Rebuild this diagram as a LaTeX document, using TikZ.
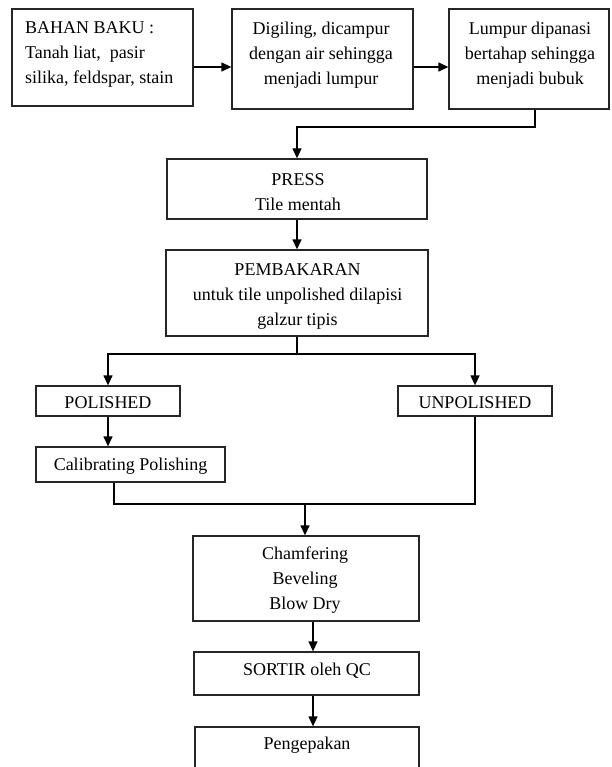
\documentclass[tikz,border=0pt]{standalone}
\usepackage{fontspec}
\setmainfont{Liberation Serif}
\usetikzlibrary{arrows.meta}
\begin{document}
\begin{tikzpicture}[x=1pt,y=-1pt,
  box/.style={draw=black!85, line width=1.3pt, rectangle, inner sep=0pt},
  txt/.style={inner sep=0pt, font=\fontsize{18}{25}\selectfont, align=center, yshift=-2pt},
  line/.style={line width=1.3pt, draw=black},
  arr/.style={line, -{Triangle[length=10pt,width=9pt]}}]
\clip (0,0) rectangle (611,767);
\useasboundingbox (0,0) rectangle (611,767);
\fill[white] (0,0) rectangle (611,767);

% process boxes
\node[box, minimum width=181pt, minimum height=97pt]  (b1)    at (102.5,57.5) {};
\node[box, minimum width=181pt, minimum height=100pt] (b2)    at (322.5,59) {};
\node[box, minimum width=160pt, minimum height=100pt] (b3)    at (529,59) {};
\node[box, minimum width=260pt, minimum height=60pt]  (press) at (297,189) {};
\node[box, minimum width=262pt, minimum height=86pt]  (pemb)  at (297,293) {};
\node[box, minimum width=144pt, minimum height=30pt]  (pol)   at (108,401) {};
\node[box, minimum width=154pt, minimum height=30pt]  (unpol) at (475,401) {};
\node[box, minimum width=189pt, minimum height=35pt]  (cal)   at (130.5,464.5) {};
\node[box, minimum width=226pt, minimum height=85pt]  (cham)  at (306,578.5) {};
\node[box, minimum width=225pt, minimum height=43pt]  (sort)  at (306.5,673.5) {};
\node[box, minimum width=224pt, minimum height=80pt]  (pack)  at (307,767) {};

% labels
\node[txt, align=left, anchor=west] (t1) at (25,52.5)
  {BAHAN BAKU :\\Tanah liat,\ \ pasir\\silika, feldspar,\ stain};
\node[txt] (t2) at (321,53) {Digiling, dicampur\\dengan air sehingga\\menjadi lumpur};
\node[txt] (t3) at (530,53) {Lumpur dipanasi\\bertahap sehingga\\menjadi bubuk};
\node[txt] (t4) at (298,190) {PRESS\\Tile mentah};
\node[txt] (t5) at (297.5,294) {PEMBAKARAN\\untuk tile unpolished dilapisi\\galzur tipis};
\node[txt] (t6) at (108,401) {POLISHED};
\node[txt] (t7) at (475,401) {UNPOLISHED};
\node[txt] (t8) at (130.5,464.5) {Calibrating Polishing};
\node[txt] (t9) at (305,578) {Chamfering\\Beveling\\Blow Dry};
\node[txt] (t10) at (307,669) {SORTIR oleh QC};
\node[txt] (t11) at (307,743) {Pengepakan};

% routing points
\coordinate (r1) at (0,67);
\coordinate (k1) at (535,127);
\coordinate (split) at (297,354);
\coordinate (jl) at (114,504);
\coordinate (jr) at (475,504);
\coordinate (jm) at (305,504);
\coordinate (v) at (313,0);

% connectors
\draw[arr] (b1.east |- r1) -- (b2.west |- r1);
\draw[arr] (b2.east |- r1) -- (b3.west |- r1);
\draw[arr] (b3.south -| k1) -- (k1) -| (press.north);
\draw[arr] (press.south) -- (pemb.north);
\draw[line] (pemb.south) -- (split);
\draw[arr] (split) -| (pol.north);
\draw[arr] (split) -| (unpol.north);
\draw[arr] (pol.south) -- (cal.north -| pol.south);
\draw[line] (cal.south -| jl) -- (jl) -- (jr) -- (unpol.south);
\draw[arr] (jm) -- (cham.north -| jm);
\draw[arr] (cham.south -| v) -- (sort.north -| v);
\draw[arr] (sort.south -| v) -- (pack.north -| v);
\end{tikzpicture}
\end{document}
